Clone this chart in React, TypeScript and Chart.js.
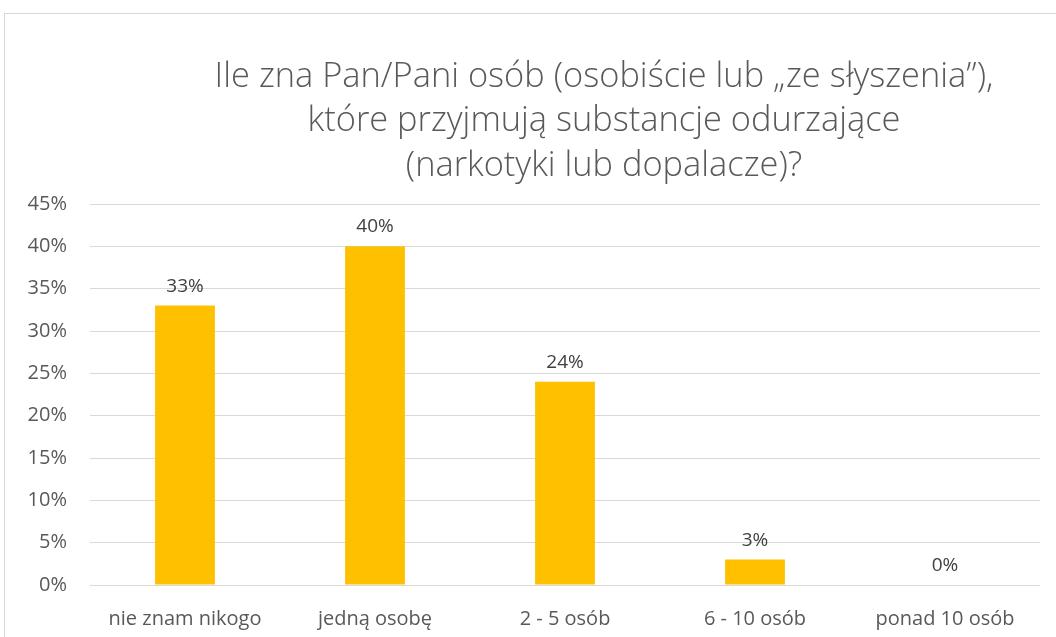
import React, { useEffect, useRef } from "react";
import { Chart, registerables } from "chart.js";

Chart.register(...registerables);

const categories = ["nie znam nikogo", "jedną osobę", "2 - 5 osób", "6 - 10 osób", "ponad 10 osób"];
const values = [33, 40, 24, 3, 0];
const titleLines = [
  "Ile zna Pan/Pani osób (osobiście lub „ze słyszenia”),",
  "które przyjmują substancje odurzające",
  "(narkotyki lub dopalacze)?",
];
const yMax = 45;
const yStep = 5;

const FONT = "'Open Sans', 'Noto Sans', sans-serif";

const framePlugin = {
  id: "frame",
  beforeDraw(chart: any) {
    const ctx = chart.ctx;
    ctx.save();
    ctx.fillStyle = "#ffffff";
    ctx.fillRect(0, 0, chart.width, chart.height);
    ctx.strokeStyle = "#d9d9d9";
    ctx.lineWidth = 1;
    ctx.strokeRect(4.5, 13.5, chart.width + 50, chart.height + 50);
    ctx.restore();
  },
};

const titlePlugin = {
  id: "customTitle",
  afterDraw(chart: any) {
    const ctx = chart.ctx;
    ctx.save();
    let size = 28;
    ctx.font = `300 ${size}px ${FONT}`;
    const w = ctx.measureText(titleLines[0]).width;
    size = size * (779 / w);
    ctx.font = `300 ${size}px ${FONT}`;
    ctx.fillStyle = "#595959";
    ctx.textAlign = "center";
    ctx.textBaseline = "middle";
    const cx = 604;
    const ys = [77, 121, 166];
    titleLines.forEach((l, i) => ctx.fillText(l, cx, ys[i]));
    ctx.restore();
  },
};

const labelPlugin = {
  id: "barLabels",
  afterDatasetsDraw(chart: any) {
    const ctx = chart.ctx;
    const meta = chart.getDatasetMeta(0);
    ctx.save();
    ctx.font = `19px ${FONT}`;
    ctx.fillStyle = "#404040";
    ctx.textAlign = "center";
    ctx.textBaseline = "bottom";
    meta.data.forEach((bar: any, i: number) => {
      ctx.fillText(values[i] + "%", bar.x, bar.y - 10);
    });
    ctx.restore();
  },
};

export default function App() {
  const ref = useRef<HTMLCanvasElement>(null);
  useEffect(() => {
    document.body.style.margin = "0";
    const chart = new Chart(ref.current!, {
      type: "bar",
      data: {
        labels: categories,
        datasets: [
          {
            data: values,
            backgroundColor: "#FFC000",
            barPercentage: 0.63,
            categoryPercentage: 0.5,
          },
        ],
      },
      options: {
        animation: false,
        responsive: false,
        layout: { padding: { top: 204, right: 16, left: 0, bottom: 0 } },
        plugins: {
          legend: { display: false },
          title: { display: false },
          tooltip: { enabled: false },
        },
        scales: {
          x: {
            grid: { display: false, drawTicks: false },
            border: { display: false },
            ticks: { color: "#595959", font: { family: FONT, size: 20 }, padding: 22, maxRotation: 0 },
            afterFit: (s: any) => {
              s.height = 52;
            },
          },
          y: {
            min: 0,
            max: yMax,
            grid: { color: "#d9d9d9", lineWidth: 1, drawTicks: false },
            border: { display: false },
            ticks: {
              stepSize: yStep,
              color: "#595959",
              font: { family: FONT, size: 20 },
              padding: 23,
              callback: (v: any) => v + "%",
            },
            afterFit: (s: any) => {
              s.width = 90;
            },
          },
        },
      },
      plugins: [framePlugin, titlePlugin, labelPlugin],
    });
    return () => chart.destroy();
  }, []);
  return <canvas ref={ref} width={1056} height={637} style={{ display: "block" }} />;
}
